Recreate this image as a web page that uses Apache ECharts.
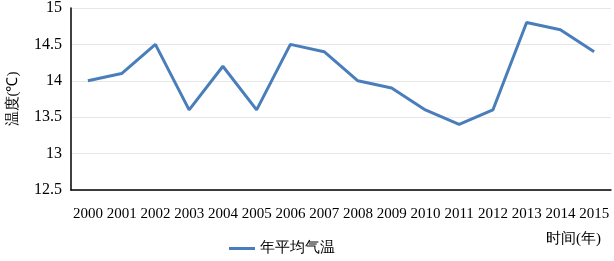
<!DOCTYPE html>
<html>
<head>
<meta charset="utf-8">
<script src="https://cdn.jsdelivr.net/npm/echarts@6/dist/echarts.min.js"></script>
<style>
html,body{margin:0;padding:0;background:#fff;}
#chart{width:614px;height:261px;}
</style>
</head>
<body>
<div id="chart"></div>
<script>
// 年份与年平均气温
var years = ['2000','2001','2002','2003','2004','2005','2006','2007','2008','2009','2010','2011','2012','2013','2014','2015'];
var temps = [14.0, 14.1, 14.5, 13.6, 14.2, 13.6, 14.5, 14.4, 14.0, 13.9, 13.6, 13.4, 13.6, 14.8, 14.7, 14.4];
var seriesName = '年平均气温';

var font = '"Liberation Serif", "Times New Roman", serif';

var option = {
    animation: false,
    textStyle: {fontFamily: font},
    grid: {left: 71, right: 3, top: 8, bottom: 71, containLabel: false, outerBoundsMode: 'none'},
    legend: {
        data: [seriesName],
        left: 224,
        top: 236,
        itemWidth: 26,
        itemHeight: 3,
        itemGap: 4,
        icon: 'rect',
        textStyle: {fontFamily: font, fontSize: 15, color: '#000'}
    },
    xAxis: {
        type: 'category',
        data: years,
        boundaryGap: true,
        name: '时间(年)',
        nameLocation: 'end',
        nameGap: 0,
        nameTextStyle: {fontFamily: font, fontSize: 15, color: '#000', align: 'right', verticalAlign: 'top', padding: [42, 10, 0, 0]},
        axisLine: {lineStyle: {color: '#000', width: 1.5}},
        axisTick: {inside: true, length: 4, lineStyle: {color: '#000'}},
        axisLabel: {fontFamily: font, fontSize: 15, color: '#000', margin: 17, interval: 0},
        splitLine: {show: false}
    },
    yAxis: {
        type: 'value',
        min: 12.5,
        max: 15,
        interval: 0.5,
        name: '温度(℃)',
        nameLocation: 'middle',
        nameGap: 50,
        nameTextStyle: {fontFamily: font, fontSize: 15, color: '#000'},
        axisLine: {show: true, lineStyle: {color: '#000', width: 1.5}},
        axisTick: {show: false},
        axisLabel: {fontFamily: font, fontSize: 16, color: '#000', margin: 9},
        splitLine: {lineStyle: {color: '#e6e6e6', width: 1}}
    },
    series: [
        {
            name: seriesName,
            type: 'line',
            data: temps,
            symbol: 'none',
            lineStyle: {color: '#4a7ebb', width: 3},
            itemStyle: {color: '#4a7ebb'}
        }
    ]
};

var myChart = echarts.init(document.getElementById('chart'));
myChart.setOption(option);
</script>
</body>
</html>
